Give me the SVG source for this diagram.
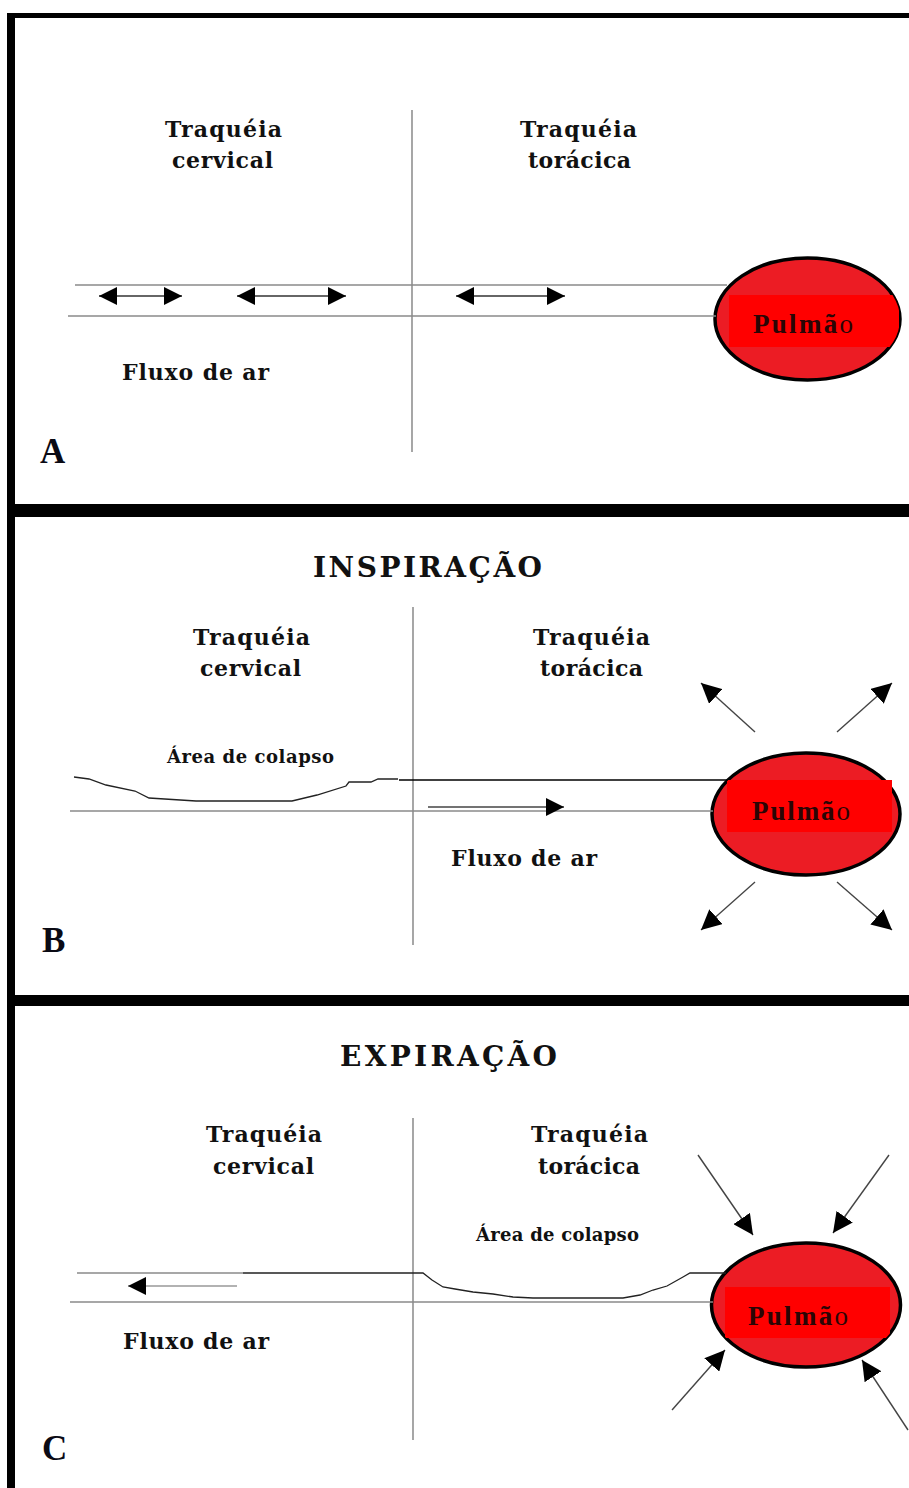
<svg xmlns="http://www.w3.org/2000/svg" width="909" height="1488" viewBox="0 0 909 1488">
<style>
.t{font-family:"DejaVu Serif","Liberation Serif",serif;font-weight:bold;fill:#111;text-anchor:middle}
.lb{font-size:22px}
.hd{font-size:28px}
.sm{font-size:18px}
.pl{font-family:"Liberation Serif",serif;font-weight:bold;font-size:27px;fill:#2a0505;text-anchor:middle}
.let{font-family:"Liberation Serif",serif;font-weight:bold;font-size:35px;fill:#0a0a14}
.g{stroke:#8a8a8a;stroke-width:1.3;fill:none}
.k{stroke:#222;stroke-width:1.3;fill:none}
.v{stroke:#777;stroke-width:1.3}
.ar{stroke:#444;stroke-width:1.4;fill:none;marker-end:url(#ah)}
.da{stroke:#333;stroke-width:1.3;fill:none;marker-start:url(#ah);marker-end:url(#ah)}
.lungE{fill:#ec1c24;stroke:#000;stroke-width:3.5}
.lungR{fill:#ff0000}
</style>
<defs>
<marker id="ah" viewBox="0 0 18 18" markerWidth="18" markerHeight="18" refX="18" refY="9" orient="auto-start-reverse" markerUnits="userSpaceOnUse">
<path d="M0,0 L18,9 L0,18 z" fill="#000"/>
</marker>
<marker id="ah2" viewBox="0 0 20 20" markerWidth="20" markerHeight="20" refX="20" refY="10" orient="auto" markerUnits="userSpaceOnUse">
<path d="M0,0 L20,10 L0,20 z" fill="#000"/>
</marker>
</defs>
<rect width="909" height="1488" fill="#fff"/>
<g id="frame" fill="#000">
<rect x="7" y="13" width="8" height="1475"/>
<rect x="7" y="13" width="902" height="5"/>
<rect x="7" y="504" width="902" height="13"/>
<rect x="7" y="995" width="902" height="11"/>
</g>

<g id="panelA">
<g id="A-lung">
<clipPath id="cA"><ellipse cx="807.5" cy="319" rx="92.5" ry="61"/></clipPath>
<ellipse class="lungE" cx="807.5" cy="319" rx="92.5" ry="61"/>
<rect class="lungR" x="729" y="295" width="170" height="52" clip-path="url(#cA)"/>
<text class="pl" x="803" y="333" textLength="100" lengthAdjust="spacing">Pulmã<tspan font-weight="normal">o</tspan></text>
</g>
<text class="t lb" x="223.5" y="137" textLength="117" lengthAdjust="spacing">Traquéia</text>
<text class="t lb" x="222.5" y="168" textLength="101" lengthAdjust="spacing">cervical</text>
<text class="t lb" x="578.5" y="137" textLength="117" lengthAdjust="spacing">Traquéia</text>
<text class="t lb" x="579.5" y="168" textLength="103" lengthAdjust="spacing">torácica</text>
<text class="t lb" x="195.5" y="380" textLength="147" lengthAdjust="spacing">Fluxo de ar</text>
<text class="let" x="40" y="463">A</text>
</g>

<g id="panelB">
<g id="B-lung">
<clipPath id="cB"><ellipse cx="806" cy="814" rx="94" ry="61"/></clipPath>
<ellipse class="lungE" cx="806" cy="814" rx="94" ry="61"/>
<rect class="lungR" x="727" y="780" width="165" height="52" clip-path="url(#cB)"/>
<rect class="lungR" x="880" y="780" width="12" height="30"/>
<text class="pl" x="801" y="820" textLength="98" lengthAdjust="spacing">Pulmã<tspan font-weight="normal">o</tspan></text>
</g>
<text class="t hd" x="427.5" y="577" textLength="229" lengthAdjust="spacing">INSPIRAÇÃO</text>
<text class="t lb" x="251.5" y="645" textLength="117" lengthAdjust="spacing">Traquéia</text>
<text class="t lb" x="250.5" y="676" textLength="101" lengthAdjust="spacing">cervical</text>
<text class="t lb" x="591.5" y="645" textLength="117" lengthAdjust="spacing">Traquéia</text>
<text class="t lb" x="591.5" y="676" textLength="103" lengthAdjust="spacing">torácica</text>
<text class="t sm" x="250.5" y="763" textLength="167" lengthAdjust="spacing">Área de  colapso</text>
<text class="t lb" x="524" y="866" textLength="146" lengthAdjust="spacing">Fluxo de ar</text>
<text class="let" x="42" y="952">B</text>
</g>

<g id="panelC">
<g id="C-lung">
<clipPath id="cC"><ellipse cx="806" cy="1305" rx="94.5" ry="62"/></clipPath>
<ellipse class="lungE" cx="806" cy="1305" rx="94.5" ry="62"/>
<rect class="lungR" x="725" y="1287" width="165" height="51" clip-path="url(#cC)"/>
<text class="pl" x="798" y="1325" textLength="100" lengthAdjust="spacing">Pulmã<tspan font-weight="normal">o</tspan></text>
</g>
<text class="t hd" x="448.5" y="1066" textLength="217" lengthAdjust="spacing">EXPIRAÇÃO</text>
<text class="t lb" x="264" y="1142" textLength="116" lengthAdjust="spacing">Traquéia</text>
<text class="t lb" x="263.5" y="1174" textLength="101" lengthAdjust="spacing">cervical</text>
<text class="t lb" x="589.5" y="1142" textLength="117" lengthAdjust="spacing">Traquéia</text>
<text class="t lb" x="589" y="1174" textLength="102" lengthAdjust="spacing">torácica</text>
<text class="t sm" x="557.5" y="1241" textLength="163" lengthAdjust="spacing">Área de colapso</text>
<text class="t lb" x="196" y="1349" textLength="146" lengthAdjust="spacing">Fluxo de ar</text>
<text class="let" x="42" y="1460">C</text>
</g>

<g id="connectors">
<!-- Panel A -->
<line class="v" x1="412" y1="110" x2="412" y2="452"/>
<line class="g" x1="75" y1="285" x2="727" y2="285"/>
<line class="g" x1="68" y1="316" x2="716" y2="316"/>
<line class="da" x1="99" y1="296" x2="182" y2="296"/>
<line class="da" x1="237" y1="296" x2="346" y2="296"/>
<line class="da" x1="456" y1="296" x2="565" y2="296"/>
<!-- Panel B -->
<line class="v" x1="413" y1="607" x2="413" y2="945"/>
<path class="k" d="M74,777 L89,779 L106,785 L135,791 L149,798 L196,801 L292,801 L317,795 L346,786 L349,782 L371,782 L378,779 L398,779"/>
<line stroke="#000" stroke-width="1.4" x1="399" y1="780" x2="728" y2="780"/>
<line class="g" x1="70" y1="811" x2="713" y2="811"/>
<line class="ar" x1="428" y1="807" x2="564" y2="807"/>
<line class="ar" style="marker-end:url(#ah2)" x1="755" y1="732" x2="701" y2="683"/>
<line class="ar" style="marker-end:url(#ah2)" x1="837" y1="732" x2="892" y2="683"/>
<line class="ar" style="marker-end:url(#ah2)" x1="755" y1="882" x2="701" y2="930"/>
<line class="ar" style="marker-end:url(#ah2)" x1="837" y1="882" x2="892" y2="930"/>
<!-- Panel C -->
<line class="v" x1="413" y1="1118" x2="413" y2="1440"/>
<line class="g" x1="77" y1="1273" x2="243" y2="1273"/>
<path class="k" d="M243,1273 L423,1273 L432,1280 L443,1287 L455,1289 L473,1292 L493,1294 L513,1297 L533,1298 L623,1298 L640,1295 L653,1290 L667,1286 L683,1277 L690,1273 L726,1273"/>
<line class="g" x1="70" y1="1302" x2="713" y2="1302"/>
<line class="ar" style="stroke:#999" x1="237" y1="1286" x2="128" y2="1286"/>
<line class="ar" style="marker-end:url(#ah2)" x1="698" y1="1155" x2="753" y2="1235"/>
<line class="ar" style="marker-end:url(#ah2)" x1="889" y1="1155" x2="833" y2="1233"/>
<line class="ar" style="marker-end:url(#ah2)" x1="672" y1="1410" x2="725" y2="1350"/>
<line class="ar" style="marker-end:url(#ah2)" x1="908" y1="1430" x2="862" y2="1360"/>
</g>
</svg>
